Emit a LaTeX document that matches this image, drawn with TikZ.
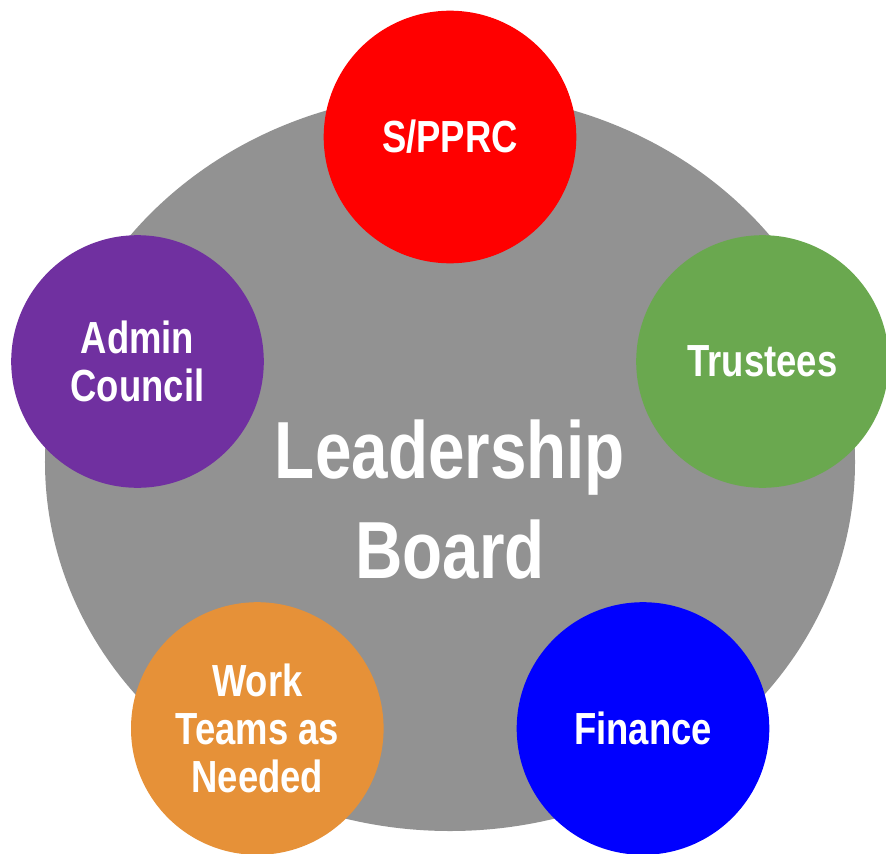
\documentclass[tikz,border=0pt]{standalone}
\usepackage{fontspec}
\usetikzlibrary{shapes.geometric}
\newfontfamily\lbfont[FakeStretch=0.81]{Liberation Sans}
\definecolor{boardgray}{HTML}{929292}
\definecolor{sred}{HTML}{FF0000}
\definecolor{tgreen}{HTML}{6AA84F}
\definecolor{apurple}{HTML}{7030A0}
\definecolor{worange}{HTML}{E69138}
\definecolor{fblue}{HTML}{0000FF}
\tikzset{
  bubble/.style={circle, minimum size=252.6bp, inner sep=0pt, text=white, align=center,
    font=\lbfont\bfseries\fontsize{45bp}{48bp}\selectfont},
  boardtext/.style={text=white, align=center, inner sep=0pt,
    font=\lbfont\bfseries\fontsize{81bp}{100bp}\selectfont}
}
\begin{document}
\begin{tikzpicture}[x=1bp,y=-1bp]
\clip (0,0) rectangle (886,854);
\fill[white] (0,0) rectangle (886,854);
\node[ellipse, fill=boardgray, minimum width=810bp, minimum height=738bp, inner sep=0pt] (board) at (450,462) {};
\node[boardtext] (boardlbl) at (450,500) {Leadership\\Board};
\node[bubble, fill=sred] (sp) at (450,137) {S/PPRC};
\node[bubble, fill=tgreen] (tr) at (762.5,361.5) {Trustees};
\node[bubble, fill=apurple] (ad) at (137.5,361.5) {Admin\\Council};
\node[bubble, fill=worange] (wt) at (257.3,728.5) {Work\\Teams as\\Needed};
\node[bubble, fill=fblue] (fi) at (643,728.5) {Finance};
\end{tikzpicture}
\end{document}
